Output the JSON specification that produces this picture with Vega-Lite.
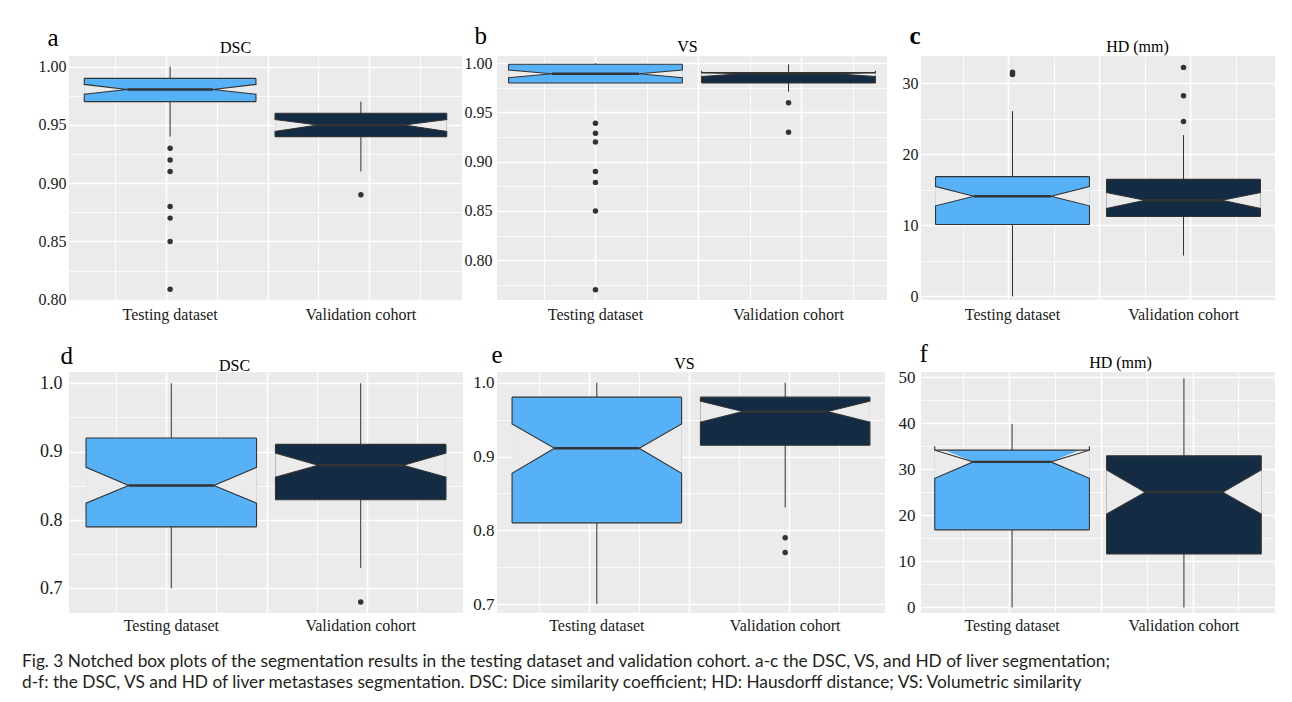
{
  "$schema": "https://vega.github.io/schema/vega-lite/v6.json",
  "padding": {"left": 22, "top": 23, "right": 0, "bottom": 0},
  "background": "#FFFFFF",
  "title": {
    "text": ["Fig. 3  Notched box plots of the segmentation results in the testing dataset and validation cohort. a-c the DSC, VS, and HD of liver segmentation;", "d-f: the DSC, VS and HD of liver metastases segmentation. DSC: Dice similarity coefficient; HD: Hausdorff distance; VS: Volumetric similarity"],
    "orient": "bottom", "anchor": "start", "frame": "bounds", "font": "Lato", "fontSize": 17.3, "fontWeight": "normal", "color": "#231F20", "lineHeight": 21, "offset": 20, "baseline": "top"
  },
  "datasets": {
    "boxes": [
      {"p": "a", "g": "Testing dataset", "lo": 0.94, "q1": 0.970, "nlo": 0.9764, "med": 0.9805, "nhi": 0.9848, "q3": 0.990, "hi": 1.0},
      {"p": "a", "g": "Validation cohort", "lo": 0.91, "q1": 0.940, "nlo": 0.9445, "med": 0.950, "nhi": 0.9546, "q3": 0.960, "hi": 0.97},
      {"p": "b", "g": "Testing dataset", "lo": 0.98, "q1": 0.980, "nlo": 0.9853, "med": 0.9894, "nhi": 0.9932, "q3": 0.999, "hi": 1.0},
      {"p": "b", "g": "Validation cohort", "lo": 0.971, "q1": 0.980, "nlo": 0.9865, "med": 0.9895, "nhi": 0.9925, "q3": 0.9905, "hi": 0.999},
      {"p": "c", "g": "Testing dataset", "lo": 0, "q1": 10.12, "nlo": 12.74, "med": 14.08, "nhi": 15.44, "q3": 16.84, "hi": 26.04},
      {"p": "c", "g": "Validation cohort", "lo": 5.74, "q1": 11.24, "nlo": 12.36, "med": 13.52, "nhi": 14.6, "q3": 16.46, "hi": 22.68},
      {"p": "d", "g": "Testing dataset", "lo": 0.70, "q1": 0.790, "nlo": 0.8247, "med": 0.8504, "nhi": 0.8771, "q3": 0.920, "hi": 1.0},
      {"p": "d", "g": "Validation cohort", "lo": 0.73, "q1": 0.8296, "nlo": 0.8625, "med": 0.880, "nhi": 0.898, "q3": 0.9106, "hi": 1.0},
      {"p": "e", "g": "Testing dataset", "lo": 0.70, "q1": 0.8102, "nlo": 0.8773, "med": 0.9112, "nhi": 0.9443, "q3": 0.9805, "hi": 1.0},
      {"p": "e", "g": "Validation cohort", "lo": 0.831, "q1": 0.9153, "nlo": 0.9466, "med": 0.9611, "nhi": 0.9751, "q3": 0.9805, "hi": 1.0},
      {"p": "f", "g": "Testing dataset", "lo": 0, "q1": 16.85, "nlo": 28.04, "med": 31.6, "nhi": 35.0, "q3": 34.14, "hi": 39.8},
      {"p": "f", "g": "Validation cohort", "lo": 0, "q1": 11.6, "nlo": 20.27, "med": 25.0, "nhi": 29.87, "q3": 32.9, "hi": 49.7}
    ],
    "outliers": [
      {"p": "a", "g": "Testing dataset", "value": 0.93},
      {"p": "a", "g": "Testing dataset", "value": 0.92},
      {"p": "a", "g": "Testing dataset", "value": 0.91},
      {"p": "a", "g": "Testing dataset", "value": 0.88},
      {"p": "a", "g": "Testing dataset", "value": 0.87},
      {"p": "a", "g": "Testing dataset", "value": 0.85},
      {"p": "a", "g": "Testing dataset", "value": 0.809},
      {"p": "a", "g": "Validation cohort", "value": 0.89},
      {"p": "b", "g": "Testing dataset", "value": 0.939},
      {"p": "b", "g": "Testing dataset", "value": 0.929},
      {"p": "b", "g": "Testing dataset", "value": 0.92},
      {"p": "b", "g": "Testing dataset", "value": 0.89},
      {"p": "b", "g": "Testing dataset", "value": 0.879},
      {"p": "b", "g": "Testing dataset", "value": 0.85},
      {"p": "b", "g": "Testing dataset", "value": 0.77},
      {"p": "b", "g": "Validation cohort", "value": 0.96},
      {"p": "b", "g": "Validation cohort", "value": 0.93},
      {"p": "c", "g": "Testing dataset", "value": 31.2},
      {"p": "c", "g": "Testing dataset", "value": 31.5},
      {"p": "c", "g": "Validation cohort", "value": 32.2},
      {"p": "c", "g": "Validation cohort", "value": 28.2},
      {"p": "c", "g": "Validation cohort", "value": 24.6},
      {"p": "d", "g": "Validation cohort", "value": 0.68},
      {"p": "e", "g": "Validation cohort", "value": 0.79},
      {"p": "e", "g": "Validation cohort", "value": 0.77}
    ]
  },
  "concat": [
    {"width": 13, "height": 20, "view": {"fill": "transparent", "stroke": null}, "data": {"values": []}, "mark": "point", "encoding": {}},
    {
      "width": 393, "height": 244,
      "resolve": {"scale": {"x": "independent"}, "axis": {"x": "independent"}},
      "layer": [
        {"mark": {"type": "rule", "opacity": 0},
         "encoding": {"x": {"datum": 1.5, "type": "quantitative", "scale": {"domain": [0.522, 2.458]},
           "axis": {"orient": "top", "values": [0.75, 1, 1.25, 1.5, 1.75, 2, 2.25], "tickCount": 30, "grid": true, "labels": false, "gridWidth": {"condition": {"test": "datum.value % 0.5 == 0", "value": 1.6}, "value": 0.8},
             "title": "DSC", "titleFontSize": 16, "titleAngle": 0, "titleAlign": "center", "titleBaseline": "alphabetic", "titleX": 166, "titleY": -4}}}},
        {"resolve": {"scale": {"xOffset": "independent"}},
         "layer": [
          {"data": {"name": "boxes"}, "transform": [{"filter": "datum.p == 'a'"}],
           "mark": {"type": "rule", "color": "#333333", "strokeWidth": 1},
           "encoding": {
             "x": {"field": "g", "type": "nominal", "scale": {"paddingInner": 0.1, "paddingOuter": 0.08}, "axis": {"orient": "bottom", "title": null, "labelAngle": 0, "labelFontSize": 16, "labelPadding": 6, "grid": false}},
             "y": {"field": "lo", "type": "quantitative", "scale": {"domain": [0.7997, 1.0092], "nice": false},
               "axis": {"values": [0.8, 0.825, 0.85, 0.875, 0.9, 0.925, 0.95, 0.975, 1.0], "tickCount": 30, "labelOverlap": false, "labelExpr": "abs(datum.value*20-round(datum.value*20))<0.001 ? format(datum.value,'.2f') : ''", "grid": true, "gridWidth": {"condition": {"test": "abs(datum.value*20-round(datum.value*20))<0.001", "value": 1.6}, "value": 0.8}, "labelFontSize": 16, "labelPadding": 3, "title": "a", "titleAngle": 0, "titleAlign": "left", "titleBaseline": "alphabetic", "titleX": -22, "titleY": -11, "titleFontSize": 25}},
             "y2": {"field": "hi"}}},
          {"data": {"name": "boxes"}, "transform": [{"filter": "datum.p == 'a'"}],
           "mark": {"type": "bar", "strokeWidth": 0},
           "encoding": {"x": {"field": "g", "type": "nominal"}, "y": {"field": "q1", "type": "quantitative", "scale": {"domain": [0.7997, 1.0092], "nice": false}}, "y2": {"field": "q3"},
             "color": {"field": "g", "type": "nominal", "scale": {"domain": ["Testing dataset", "Validation cohort"], "range": ["#56B1F7", "#132B43"]}, "legend": null}}},
          {"data": {"name": "boxes"},
           "transform": [{"filter": "datum.p == 'a'"}, {"fold": ["q1", "nlo", "med", "nhi", "q3"], "as": ["k", "v"]}, {"impute": "v", "key": "col", "keyvals": ["L", "Li", "C", "Ri", "R"], "groupby": ["g", "k"], "method": "max"}, {"filter": "datum.col != null"}],
           "encoding": {"x": {"field": "g", "type": "nominal"}, "xOffset": {"field": "col", "type": "nominal", "scale": {"type": "point", "domain": ["L", "Li", "C", "Ri", "R"], "padding": 0}}, "y": {"field": "v", "type": "quantitative", "scale": {"domain": [0.7997, 1.0092], "nice": false}}, "order": {"field": "v", "type": "quantitative"}, "detail": {"field": "g"}},
           "layer": [
             {"transform": [{"filter": "((datum.k == 'nlo' || datum.k == 'nhi') && datum.col == 'L') || (datum.k == 'med' && datum.col == 'Li')"}], "mark": {"type": "line", "fill": "#EBEBEB", "stroke": "#EBEBEB", "strokeOpacity": 0}},
             {"transform": [{"filter": "((datum.k == 'nlo' || datum.k == 'nhi') && datum.col == 'R') || (datum.k == 'med' && datum.col == 'Ri')"}], "mark": {"type": "line", "fill": "#EBEBEB", "stroke": "#EBEBEB", "strokeOpacity": 0}},
             {"transform": [{"filter": "(datum.k == 'med' && datum.col == 'Li') || (datum.k != 'med' && datum.col == 'L')"}], "mark": {"type": "line", "color": "#333333", "strokeWidth": 1.1}},
             {"transform": [{"filter": "(datum.k == 'med' && datum.col == 'Ri') || (datum.k != 'med' && datum.col == 'R')"}], "mark": {"type": "line", "color": "#333333", "strokeWidth": 1.1}},
             {"transform": [{"filter": "datum.k == 'q1' && (datum.col == 'L' || datum.col == 'R')"}], "mark": {"type": "line", "color": "#333333", "strokeWidth": 1.1}},
             {"transform": [{"filter": "datum.k == 'q3' && (datum.col == 'L' || datum.col == 'R')"}], "mark": {"type": "line", "color": "#333333", "strokeWidth": 1.1}},
             {"transform": [{"filter": "datum.k == 'med' && (datum.col == 'Li' || datum.col == 'Ri')"}], "mark": {"type": "line", "color": "#333333", "strokeWidth": 2.4}}
           ]},
          {"data": {"name": "outliers"}, "transform": [{"filter": "datum.p == 'a'"}],
           "mark": {"type": "point", "filled": true, "size": 30, "color": "#333333", "opacity": 1},
           "encoding": {"x": {"field": "g", "type": "nominal"}, "y": {"field": "value", "type": "quantitative", "scale": {"domain": [0.7997, 1.0092], "nice": false}}}}
        ]}
      ]
    },
    {
      "width": 390, "height": 244,
      "resolve": {"scale": {"x": "independent"}, "axis": {"x": "independent"}},
      "layer": [
        {"mark": {"type": "rule", "opacity": 0},
         "encoding": {"x": {"datum": 1.5, "type": "quantitative", "scale": {"domain": [0.523, 2.416]},
           "axis": {"orient": "top", "values": [0.75, 1, 1.25, 1.5, 1.75, 2, 2.25], "tickCount": 30, "grid": true, "labels": false, "gridWidth": {"condition": {"test": "datum.value % 0.5 == 0", "value": 1.6}, "value": 0.8},
             "title": "VS", "titleFontSize": 16, "titleAngle": 0, "titleAlign": "center", "titleBaseline": "alphabetic", "titleX": 190, "titleY": -5}}}},
        {"resolve": {"scale": {"xOffset": "independent"}},
         "layer": [
          {"data": {"name": "boxes"}, "transform": [{"filter": "datum.p == 'b'"}],
           "mark": {"type": "rule", "color": "#333333", "strokeWidth": 1},
           "encoding": {
             "x": {"field": "g", "type": "nominal", "scale": {"paddingInner": 0.1, "paddingOuter": 0.06}, "axis": {"orient": "bottom", "title": null, "labelAngle": 0, "labelFontSize": 16, "labelPadding": 6, "grid": false}},
             "y": {"field": "lo", "type": "quantitative", "scale": {"domain": [0.7595, 1.0074], "nice": false},
               "axis": {"values": [0.775, 0.8, 0.825, 0.85, 0.875, 0.9, 0.925, 0.95, 0.975, 1.0], "tickCount": 30, "labelOverlap": false, "labelExpr": "abs(datum.value*20-round(datum.value*20))<0.001 ? format(datum.value,'.2f') : ''", "grid": true, "gridWidth": {"condition": {"test": "abs(datum.value*20-round(datum.value*20))<0.001", "value": 1.6}, "value": 0.8}, "labelFontSize": 16, "labelPadding": 5, "title": "b", "titleAngle": 0, "titleAlign": "left", "titleBaseline": "alphabetic", "titleX": -23, "titleY": -13, "titleFontSize": 25}},
             "y2": {"field": "hi"}}},
          {"data": {"name": "boxes"}, "transform": [{"filter": "datum.p == 'b'"}],
           "mark": {"type": "bar", "strokeWidth": 0},
           "encoding": {"x": {"field": "g", "type": "nominal"}, "y": {"field": "q1", "type": "quantitative", "scale": {"domain": [0.7595, 1.0074], "nice": false}}, "y2": {"field": "q3"},
             "color": {"field": "g", "type": "nominal", "scale": {"domain": ["Testing dataset", "Validation cohort"], "range": ["#56B1F7", "#132B43"]}, "legend": null}}},
          {"data": {"name": "boxes"},
           "transform": [{"filter": "datum.p == 'b'"}, {"fold": ["q1", "nlo", "med", "nhi", "q3"], "as": ["k", "v"]}, {"impute": "v", "key": "col", "keyvals": ["L", "Li", "C", "Ri", "R"], "groupby": ["g", "k"], "method": "max"}, {"filter": "datum.col != null"}],
           "encoding": {"x": {"field": "g", "type": "nominal"}, "xOffset": {"field": "col", "type": "nominal", "scale": {"type": "point", "domain": ["L", "Li", "C", "Ri", "R"], "padding": 0}}, "y": {"field": "v", "type": "quantitative", "scale": {"domain": [0.7595, 1.0074], "nice": false}}, "order": {"field": "v", "type": "quantitative"}, "detail": {"field": "g"}},
           "layer": [
             {"transform": [{"filter": "((datum.k == 'nlo' || datum.k == 'nhi') && datum.col == 'L') || (datum.k == 'med' && datum.col == 'Li')"}], "mark": {"type": "line", "fill": "#EBEBEB", "stroke": "#EBEBEB", "strokeOpacity": 0}},
             {"transform": [{"filter": "((datum.k == 'nlo' || datum.k == 'nhi') && datum.col == 'R') || (datum.k == 'med' && datum.col == 'Ri')"}], "mark": {"type": "line", "fill": "#EBEBEB", "stroke": "#EBEBEB", "strokeOpacity": 0}},
             {"transform": [{"filter": "(datum.k == 'med' && datum.col == 'Li') || (datum.k != 'med' && datum.col == 'L')"}], "mark": {"type": "line", "color": "#333333", "strokeWidth": 1.1}},
             {"transform": [{"filter": "(datum.k == 'med' && datum.col == 'Ri') || (datum.k != 'med' && datum.col == 'R')"}], "mark": {"type": "line", "color": "#333333", "strokeWidth": 1.1}},
             {"transform": [{"filter": "datum.k == 'q1' && (datum.col == 'L' || datum.col == 'R')"}], "mark": {"type": "line", "color": "#333333", "strokeWidth": 1.1}},
             {"transform": [{"filter": "datum.k == 'q3' && (datum.col == 'L' || datum.col == 'R')"}], "mark": {"type": "line", "color": "#333333", "strokeWidth": 1.1}},
             {"transform": [{"filter": "datum.k == 'med' && (datum.col == 'Li' || datum.col == 'Ri')"}], "mark": {"type": "line", "color": "#333333", "strokeWidth": 2.4}}
           ]},
          {"data": {"name": "outliers"}, "transform": [{"filter": "datum.p == 'b'"}],
           "mark": {"type": "point", "filled": true, "size": 30, "color": "#333333", "opacity": 1},
           "encoding": {"x": {"field": "g", "type": "nominal"}, "y": {"field": "value", "type": "quantitative", "scale": {"domain": [0.7595, 1.0074], "nice": false}}}}
        ]}
      ]
    },
    {
      "width": 354, "height": 244,
      "resolve": {"scale": {"x": "independent"}, "axis": {"x": "independent"}},
      "layer": [
        {"mark": {"type": "rule", "opacity": 0},
         "encoding": {"x": {"datum": 1.5, "type": "quantitative", "scale": {"domain": [0.519, 2.465]},
           "axis": {"orient": "top", "values": [0.75, 1, 1.25, 1.5, 1.75, 2, 2.25], "tickCount": 30, "grid": true, "labels": false, "gridWidth": {"condition": {"test": "datum.value % 0.5 == 0", "value": 1.6}, "value": 0.8},
             "title": "HD (mm)", "titleFontSize": 16, "titleAngle": 0, "titleAlign": "center", "titleBaseline": "alphabetic", "titleX": 216, "titleY": -5}}}},
        {"resolve": {"scale": {"xOffset": "independent"}},
         "layer": [
          {"data": {"name": "boxes"}, "transform": [{"filter": "datum.p == 'c'"}],
           "mark": {"type": "rule", "color": "#333333", "strokeWidth": 1},
           "encoding": {
             "x": {"field": "g", "type": "nominal", "scale": {"paddingInner": 0.1, "paddingOuter": 0.085}, "axis": {"orient": "bottom", "title": null, "labelAngle": 0, "labelFontSize": 16, "labelPadding": 6, "grid": false}},
             "y": {"field": "lo", "type": "quantitative", "scale": {"domain": [-0.5, 33.8], "nice": false},
               "axis": {"values": [0, 5, 10, 15, 20, 25, 30], "tickCount": 30, "labelOverlap": false, "labelExpr": "datum.value % 10 == 0 ? format(datum.value,'d') : ''", "grid": true, "gridWidth": {"condition": {"test": "datum.value % 10 == 0", "value": 1.6}, "value": 0.8}, "labelFontSize": 16, "labelPadding": 3, "title": "c", "titleAngle": 0, "titleAlign": "left", "titleBaseline": "alphabetic", "titleX": -12, "titleY": -13, "titleFontSize": 25, "titleFontWeight": "bold"}},
             "y2": {"field": "hi"}}},
          {"data": {"name": "boxes"}, "transform": [{"filter": "datum.p == 'c'"}],
           "mark": {"type": "bar", "strokeWidth": 0},
           "encoding": {"x": {"field": "g", "type": "nominal"}, "y": {"field": "q1", "type": "quantitative", "scale": {"domain": [-0.5, 33.8], "nice": false}}, "y2": {"field": "q3"},
             "color": {"field": "g", "type": "nominal", "scale": {"domain": ["Testing dataset", "Validation cohort"], "range": ["#56B1F7", "#132B43"]}, "legend": null}}},
          {"data": {"name": "boxes"},
           "transform": [{"filter": "datum.p == 'c'"}, {"fold": ["q1", "nlo", "med", "nhi", "q3"], "as": ["k", "v"]}, {"impute": "v", "key": "col", "keyvals": ["L", "Li", "C", "Ri", "R"], "groupby": ["g", "k"], "method": "max"}, {"filter": "datum.col != null"}],
           "encoding": {"x": {"field": "g", "type": "nominal"}, "xOffset": {"field": "col", "type": "nominal", "scale": {"type": "point", "domain": ["L", "Li", "C", "Ri", "R"], "padding": 0}}, "y": {"field": "v", "type": "quantitative", "scale": {"domain": [-0.5, 33.8], "nice": false}}, "order": {"field": "v", "type": "quantitative"}, "detail": {"field": "g"}},
           "layer": [
             {"transform": [{"filter": "((datum.k == 'nlo' || datum.k == 'nhi') && datum.col == 'L') || (datum.k == 'med' && datum.col == 'Li')"}], "mark": {"type": "line", "fill": "#EBEBEB", "stroke": "#EBEBEB", "strokeOpacity": 0}},
             {"transform": [{"filter": "((datum.k == 'nlo' || datum.k == 'nhi') && datum.col == 'R') || (datum.k == 'med' && datum.col == 'Ri')"}], "mark": {"type": "line", "fill": "#EBEBEB", "stroke": "#EBEBEB", "strokeOpacity": 0}},
             {"transform": [{"filter": "(datum.k == 'med' && datum.col == 'Li') || (datum.k != 'med' && datum.col == 'L')"}], "mark": {"type": "line", "color": "#333333", "strokeWidth": 1.1}},
             {"transform": [{"filter": "(datum.k == 'med' && datum.col == 'Ri') || (datum.k != 'med' && datum.col == 'R')"}], "mark": {"type": "line", "color": "#333333", "strokeWidth": 1.1}},
             {"transform": [{"filter": "datum.k == 'q1' && (datum.col == 'L' || datum.col == 'R')"}], "mark": {"type": "line", "color": "#333333", "strokeWidth": 1.1}},
             {"transform": [{"filter": "datum.k == 'q3' && (datum.col == 'L' || datum.col == 'R')"}], "mark": {"type": "line", "color": "#333333", "strokeWidth": 1.1}},
             {"transform": [{"filter": "datum.k == 'med' && (datum.col == 'Li' || datum.col == 'Ri')"}], "mark": {"type": "line", "color": "#333333", "strokeWidth": 2.4}}
           ]},
          {"data": {"name": "outliers"}, "transform": [{"filter": "datum.p == 'c'"}],
           "mark": {"type": "point", "filled": true, "size": 30, "color": "#333333", "opacity": 1},
           "encoding": {"x": {"field": "g", "type": "nominal"}, "y": {"field": "value", "type": "quantitative", "scale": {"domain": [-0.5, 33.8], "nice": false}}}}
        ]}
      ]
    },
    {"width": 1, "height": 20, "view": {"fill": "transparent", "stroke": null}, "data": {"values": []}, "mark": "point", "encoding": {}},
    {
      "width": 394, "height": 241,
      "resolve": {"scale": {"x": "independent"}, "axis": {"x": "independent"}},
      "layer": [
        {"mark": {"type": "rule", "opacity": 0},
         "encoding": {"x": {"datum": 1.5, "type": "quantitative", "scale": {"domain": [0.517, 2.478]},
           "axis": {"orient": "top", "values": [0.75, 1, 1.25, 1.5, 1.75, 2, 2.25], "tickCount": 30, "grid": true, "labels": false, "gridWidth": {"condition": {"test": "datum.value % 0.5 == 0", "value": 1.6}, "value": 0.8},
             "title": "DSC", "titleFontSize": 16, "titleAngle": 0, "titleAlign": "center", "titleBaseline": "alphabetic", "titleX": 165, "titleY": -2}}}},
        {"resolve": {"scale": {"xOffset": "independent"}},
         "layer": [
          {"data": {"name": "boxes"}, "transform": [{"filter": "datum.p == 'd'"}],
           "mark": {"type": "rule", "color": "#333333", "strokeWidth": 1},
           "encoding": {
             "x": {"field": "g", "type": "nominal", "scale": {"paddingInner": 0.1, "paddingOuter": 0.09}, "axis": {"orient": "bottom", "title": null, "labelAngle": 0, "labelFontSize": 16, "labelPadding": 4, "grid": false}},
             "y": {"field": "lo", "type": "quantitative", "scale": {"domain": [0.664, 1.0165], "nice": false},
               "axis": {"values": [0.7, 0.75, 0.8, 0.85, 0.9, 0.95, 1.0], "tickCount": 30, "labelOverlap": false, "labelExpr": "abs(datum.value*10-round(datum.value*10))<0.001 ? format(datum.value,'.1f') : ''", "grid": true, "gridWidth": {"condition": {"test": "abs(datum.value*10-round(datum.value*10))<0.001", "value": 1.6}, "value": 0.8}, "labelFontSize": 18, "labelPadding": 7, "title": "d", "titleAngle": 0, "titleAlign": "left", "titleBaseline": "alphabetic", "titleX": -9, "titleY": -9, "titleFontSize": 25}},
             "y2": {"field": "hi"}}},
          {"data": {"name": "boxes"}, "transform": [{"filter": "datum.p == 'd'"}],
           "mark": {"type": "bar", "strokeWidth": 0},
           "encoding": {"x": {"field": "g", "type": "nominal"}, "y": {"field": "q1", "type": "quantitative", "scale": {"domain": [0.664, 1.0165], "nice": false}}, "y2": {"field": "q3"},
             "color": {"field": "g", "type": "nominal", "scale": {"domain": ["Testing dataset", "Validation cohort"], "range": ["#56B1F7", "#132B43"]}, "legend": null}}},
          {"data": {"name": "boxes"},
           "transform": [{"filter": "datum.p == 'd'"}, {"fold": ["q1", "nlo", "med", "nhi", "q3"], "as": ["k", "v"]}, {"impute": "v", "key": "col", "keyvals": ["L", "Li", "C", "Ri", "R"], "groupby": ["g", "k"], "method": "max"}, {"filter": "datum.col != null"}],
           "encoding": {"x": {"field": "g", "type": "nominal"}, "xOffset": {"field": "col", "type": "nominal", "scale": {"type": "point", "domain": ["L", "Li", "C", "Ri", "R"], "padding": 0}}, "y": {"field": "v", "type": "quantitative", "scale": {"domain": [0.664, 1.0165], "nice": false}}, "order": {"field": "v", "type": "quantitative"}, "detail": {"field": "g"}},
           "layer": [
             {"transform": [{"filter": "((datum.k == 'nlo' || datum.k == 'nhi') && datum.col == 'L') || (datum.k == 'med' && datum.col == 'Li')"}], "mark": {"type": "line", "fill": "#EBEBEB", "stroke": "#EBEBEB", "strokeOpacity": 0}},
             {"transform": [{"filter": "((datum.k == 'nlo' || datum.k == 'nhi') && datum.col == 'R') || (datum.k == 'med' && datum.col == 'Ri')"}], "mark": {"type": "line", "fill": "#EBEBEB", "stroke": "#EBEBEB", "strokeOpacity": 0}},
             {"transform": [{"filter": "(datum.k == 'med' && datum.col == 'Li') || (datum.k != 'med' && datum.col == 'L')"}], "mark": {"type": "line", "color": "#333333", "strokeWidth": 1.1}},
             {"transform": [{"filter": "(datum.k == 'med' && datum.col == 'Ri') || (datum.k != 'med' && datum.col == 'R')"}], "mark": {"type": "line", "color": "#333333", "strokeWidth": 1.1}},
             {"transform": [{"filter": "datum.k == 'q1' && (datum.col == 'L' || datum.col == 'R')"}], "mark": {"type": "line", "color": "#333333", "strokeWidth": 1.1}},
             {"transform": [{"filter": "datum.k == 'q3' && (datum.col == 'L' || datum.col == 'R')"}], "mark": {"type": "line", "color": "#333333", "strokeWidth": 1.1}},
             {"transform": [{"filter": "datum.k == 'med' && (datum.col == 'Li' || datum.col == 'Ri')"}], "mark": {"type": "line", "color": "#333333", "strokeWidth": 2.4}}
           ]},
          {"data": {"name": "outliers"}, "transform": [{"filter": "datum.p == 'd'"}],
           "mark": {"type": "point", "filled": true, "size": 30, "color": "#333333", "opacity": 1},
           "encoding": {"x": {"field": "g", "type": "nominal"}, "y": {"field": "value", "type": "quantitative", "scale": {"domain": [0.664, 1.0165], "nice": false}}}}
        ]}
      ]
    },
    {
      "width": 388, "height": 241,
      "resolve": {"scale": {"x": "independent"}, "axis": {"x": "independent"}},
      "layer": [
        {"mark": {"type": "rule", "opacity": 0},
         "encoding": {"x": {"datum": 1.5, "type": "quantitative", "scale": {"domain": [0.542, 2.477]},
           "axis": {"orient": "top", "values": [0.75, 1, 1.25, 1.5, 1.75, 2, 2.25], "tickCount": 30, "grid": true, "labels": false, "gridWidth": {"condition": {"test": "datum.value % 0.5 == 0", "value": 1.6}, "value": 0.8},
             "title": "VS", "titleFontSize": 16, "titleAngle": 0, "titleAlign": "center", "titleBaseline": "alphabetic", "titleX": 187, "titleY": -4}}}},
        {"resolve": {"scale": {"xOffset": "independent"}},
         "layer": [
          {"data": {"name": "boxes"}, "transform": [{"filter": "datum.p == 'e'"}],
           "mark": {"type": "rule", "color": "#333333", "strokeWidth": 1},
           "encoding": {
             "x": {"field": "g", "type": "nominal", "scale": {"paddingInner": 0.1, "paddingOuter": 0.08}, "axis": {"orient": "bottom", "title": null, "labelAngle": 0, "labelFontSize": 16, "labelPadding": 4, "grid": false}},
             "y": {"field": "lo", "type": "quantitative", "scale": {"domain": [0.688, 1.0146], "nice": false},
               "axis": {"values": [0.7, 0.75, 0.8, 0.85, 0.9, 0.95, 1.0], "tickCount": 30, "labelOverlap": false, "labelExpr": "abs(datum.value*10-round(datum.value*10))<0.001 ? format(datum.value,'.1f') : ''", "grid": true, "gridWidth": {"condition": {"test": "abs(datum.value*10-round(datum.value*10))<0.001", "value": 1.6}, "value": 0.8}, "labelFontSize": 17, "labelPadding": 3, "title": "e", "titleAngle": 0, "titleAlign": "left", "titleBaseline": "alphabetic", "titleX": -6, "titleY": -10, "titleFontSize": 25}},
             "y2": {"field": "hi"}}},
          {"data": {"name": "boxes"}, "transform": [{"filter": "datum.p == 'e'"}],
           "mark": {"type": "bar", "strokeWidth": 0},
           "encoding": {"x": {"field": "g", "type": "nominal"}, "y": {"field": "q1", "type": "quantitative", "scale": {"domain": [0.688, 1.0146], "nice": false}}, "y2": {"field": "q3"},
             "color": {"field": "g", "type": "nominal", "scale": {"domain": ["Testing dataset", "Validation cohort"], "range": ["#56B1F7", "#132B43"]}, "legend": null}}},
          {"data": {"name": "boxes"},
           "transform": [{"filter": "datum.p == 'e'"}, {"fold": ["q1", "nlo", "med", "nhi", "q3"], "as": ["k", "v"]}, {"impute": "v", "key": "col", "keyvals": ["L", "Li", "C", "Ri", "R"], "groupby": ["g", "k"], "method": "max"}, {"filter": "datum.col != null"}],
           "encoding": {"x": {"field": "g", "type": "nominal"}, "xOffset": {"field": "col", "type": "nominal", "scale": {"type": "point", "domain": ["L", "Li", "C", "Ri", "R"], "padding": 0}}, "y": {"field": "v", "type": "quantitative", "scale": {"domain": [0.688, 1.0146], "nice": false}}, "order": {"field": "v", "type": "quantitative"}, "detail": {"field": "g"}},
           "layer": [
             {"transform": [{"filter": "((datum.k == 'nlo' || datum.k == 'nhi') && datum.col == 'L') || (datum.k == 'med' && datum.col == 'Li')"}], "mark": {"type": "line", "fill": "#EBEBEB", "stroke": "#EBEBEB", "strokeOpacity": 0}},
             {"transform": [{"filter": "((datum.k == 'nlo' || datum.k == 'nhi') && datum.col == 'R') || (datum.k == 'med' && datum.col == 'Ri')"}], "mark": {"type": "line", "fill": "#EBEBEB", "stroke": "#EBEBEB", "strokeOpacity": 0}},
             {"transform": [{"filter": "(datum.k == 'med' && datum.col == 'Li') || (datum.k != 'med' && datum.col == 'L')"}], "mark": {"type": "line", "color": "#333333", "strokeWidth": 1.1}},
             {"transform": [{"filter": "(datum.k == 'med' && datum.col == 'Ri') || (datum.k != 'med' && datum.col == 'R')"}], "mark": {"type": "line", "color": "#333333", "strokeWidth": 1.1}},
             {"transform": [{"filter": "datum.k == 'q1' && (datum.col == 'L' || datum.col == 'R')"}], "mark": {"type": "line", "color": "#333333", "strokeWidth": 1.1}},
             {"transform": [{"filter": "datum.k == 'q3' && (datum.col == 'L' || datum.col == 'R')"}], "mark": {"type": "line", "color": "#333333", "strokeWidth": 1.1}},
             {"transform": [{"filter": "datum.k == 'med' && (datum.col == 'Li' || datum.col == 'Ri')"}], "mark": {"type": "line", "color": "#333333", "strokeWidth": 2.4}}
           ]},
          {"data": {"name": "outliers"}, "transform": [{"filter": "datum.p == 'e'"}],
           "mark": {"type": "point", "filled": true, "size": 30, "color": "#333333", "opacity": 1},
           "encoding": {"x": {"field": "g", "type": "nominal"}, "y": {"field": "value", "type": "quantitative", "scale": {"domain": [0.688, 1.0146], "nice": false}}}}
        ]}
      ]
    },
    {
      "width": 354, "height": 241,
      "resolve": {"scale": {"x": "independent"}, "axis": {"x": "independent"}},
      "layer": [
        {"mark": {"type": "rule", "opacity": 0},
         "encoding": {"x": {"datum": 1.5, "type": "quantitative", "scale": {"domain": [0.519, 2.449]},
           "axis": {"orient": "top", "values": [0.75, 1, 1.25, 1.5, 1.75, 2, 2.25], "tickCount": 30, "grid": true, "labels": false, "gridWidth": {"condition": {"test": "datum.value % 0.5 == 0", "value": 1.6}, "value": 0.8},
             "title": "HD (mm)", "titleFontSize": 16, "titleAngle": 0, "titleAlign": "center", "titleBaseline": "alphabetic", "titleX": 199, "titleY": -5}}}},
        {"resolve": {"scale": {"xOffset": "independent"}},
         "layer": [
          {"data": {"name": "boxes"}, "transform": [{"filter": "datum.p == 'f'"}],
           "mark": {"type": "rule", "color": "#333333", "strokeWidth": 1},
           "encoding": {
             "x": {"field": "g", "type": "nominal", "scale": {"paddingInner": 0.1, "paddingOuter": 0.08}, "axis": {"orient": "bottom", "title": null, "labelAngle": 0, "labelFontSize": 16, "labelPadding": 4, "grid": false}},
             "y": {"field": "lo", "type": "quantitative", "scale": {"domain": [-1.2, 51.1], "nice": false},
               "axis": {"values": [0, 5, 10, 15, 20, 25, 30, 35, 40, 45, 50], "tickCount": 30, "labelOverlap": false, "labelExpr": "datum.value % 10 == 0 ? format(datum.value,'d') : ''", "grid": true, "gridWidth": {"condition": {"test": "datum.value % 10 == 0", "value": 1.6}, "value": 0.8}, "labelFontSize": 17, "labelPadding": 6, "title": "f", "titleAngle": 0, "titleAlign": "left", "titleBaseline": "alphabetic", "titleX": -2, "titleY": -11, "titleFontSize": 25}},
             "y2": {"field": "hi"}}},
          {"data": {"name": "boxes"}, "transform": [{"filter": "datum.p == 'f'"}],
           "mark": {"type": "bar", "strokeWidth": 0},
           "encoding": {"x": {"field": "g", "type": "nominal"}, "y": {"field": "q1", "type": "quantitative", "scale": {"domain": [-1.2, 51.1], "nice": false}}, "y2": {"field": "q3"},
             "color": {"field": "g", "type": "nominal", "scale": {"domain": ["Testing dataset", "Validation cohort"], "range": ["#56B1F7", "#132B43"]}, "legend": null}}},
          {"data": {"name": "boxes"},
           "transform": [{"filter": "datum.p == 'f'"}, {"fold": ["q1", "nlo", "med", "nhi", "q3"], "as": ["k", "v"]}, {"impute": "v", "key": "col", "keyvals": ["L", "Li", "C", "Ri", "R"], "groupby": ["g", "k"], "method": "max"}, {"filter": "datum.col != null"}],
           "encoding": {"x": {"field": "g", "type": "nominal"}, "xOffset": {"field": "col", "type": "nominal", "scale": {"type": "point", "domain": ["L", "Li", "C", "Ri", "R"], "padding": 0}}, "y": {"field": "v", "type": "quantitative", "scale": {"domain": [-1.2, 51.1], "nice": false}}, "order": {"field": "v", "type": "quantitative"}, "detail": {"field": "g"}},
           "layer": [
             {"transform": [{"filter": "((datum.k == 'nlo' || datum.k == 'nhi') && datum.col == 'L') || (datum.k == 'med' && datum.col == 'Li')"}], "mark": {"type": "line", "fill": "#EBEBEB", "stroke": "#EBEBEB", "strokeOpacity": 0}},
             {"transform": [{"filter": "((datum.k == 'nlo' || datum.k == 'nhi') && datum.col == 'R') || (datum.k == 'med' && datum.col == 'Ri')"}], "mark": {"type": "line", "fill": "#EBEBEB", "stroke": "#EBEBEB", "strokeOpacity": 0}},
             {"transform": [{"filter": "(datum.k == 'med' && datum.col == 'Li') || (datum.k != 'med' && datum.col == 'L')"}], "mark": {"type": "line", "color": "#333333", "strokeWidth": 1.1}},
             {"transform": [{"filter": "(datum.k == 'med' && datum.col == 'Ri') || (datum.k != 'med' && datum.col == 'R')"}], "mark": {"type": "line", "color": "#333333", "strokeWidth": 1.1}},
             {"transform": [{"filter": "datum.k == 'q1' && (datum.col == 'L' || datum.col == 'R')"}], "mark": {"type": "line", "color": "#333333", "strokeWidth": 1.1}},
             {"transform": [{"filter": "datum.k == 'q3' && (datum.col == 'L' || datum.col == 'R')"}], "mark": {"type": "line", "color": "#333333", "strokeWidth": 1.1}},
             {"transform": [{"filter": "datum.k == 'med' && (datum.col == 'Li' || datum.col == 'Ri')"}], "mark": {"type": "line", "color": "#333333", "strokeWidth": 2.4}}
           ]},
          {"data": {"name": "outliers"}, "transform": [{"filter": "datum.p == 'f'"}],
           "mark": {"type": "point", "filled": true, "size": 30, "color": "#333333", "opacity": 1},
           "encoding": {"x": {"field": "g", "type": "nominal"}, "y": {"field": "value", "type": "quantitative", "scale": {"domain": [-1.2, 51.1], "nice": false}}}}
        ]}
      ]
    }
  ],
  "columns": 4,
  "align": "none",
  "bounds": "flush",
  "spacing": {"row": 72, "column": 34},
  "config": {
    "view": {"fill": "#EBEBEB", "stroke": null},
    "axis": {"domain": false, "ticks": false, "gridColor": "#FFFFFF", "labelFont": "Liberation Serif", "labelColor": "#1A1A1A", "titleFont": "Liberation Serif", "titleColor": "#000000", "titleFontWeight": "normal"}
  }
}
